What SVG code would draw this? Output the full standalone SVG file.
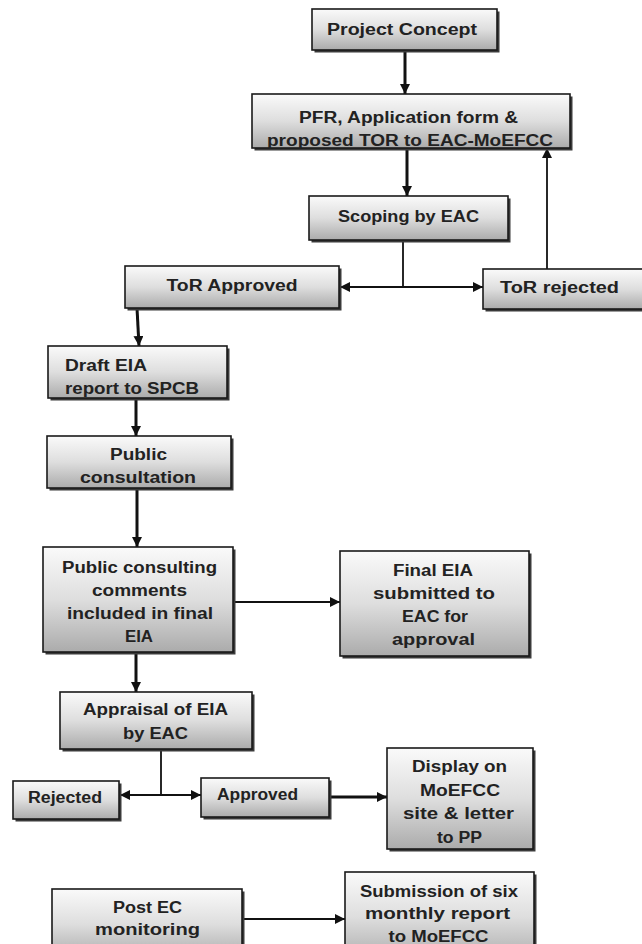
<svg xmlns="http://www.w3.org/2000/svg" width="642" height="944" viewBox="0 0 642 944">
<defs>
<linearGradient id="g" x1="0" y1="0" x2="0" y2="1">
<stop offset="0" stop-color="#fafafa"/>
<stop offset="0.5" stop-color="#dedede"/>
<stop offset="1" stop-color="#ababab"/>
</linearGradient>
<marker id="ah" markerUnits="userSpaceOnUse" markerWidth="11" markerHeight="10" refX="10" refY="5" orient="auto">
<path d="M0,0 L10,5 L0,10 z" fill="#111"/>
</marker>
<style>
.bx{fill:url(#g);stroke:#1a1a1a;stroke-width:1.6}
.sh{fill:#3a3a3a}
.t{font-family:"Liberation Sans",Arial,sans-serif;font-weight:bold;font-size:16px;fill:#222;text-anchor:middle}
.tl{text-anchor:start}
.thick{stroke:#111;stroke-width:3;fill:none}
.thin{stroke:#111;stroke-width:1.8;fill:none}
</style>
</defs>
<rect width="642" height="944" fill="#fff"/>

<g id="connectors">
<line class="thick" x1="405" y1="50" x2="405" y2="94" marker-end="url(#ah)"/>
<line class="thick" x1="407" y1="148" x2="407" y2="196" marker-end="url(#ah)"/>
<line class="thin" x1="403" y1="240" x2="403" y2="287" stroke-width="2.4"/>
<line class="thin" x1="403" y1="287" x2="340" y2="287" marker-end="url(#ah)"/>
<line class="thin" x1="403" y1="287" x2="483" y2="287" marker-end="url(#ah)"/>
<line class="thin" x1="547" y1="269" x2="547" y2="148" marker-end="url(#ah)"/>
<line class="thick" x1="137" y1="308" x2="139" y2="346" marker-end="url(#ah)"/>
<line class="thick" x1="136" y1="398" x2="136" y2="436" marker-end="url(#ah)"/>
<line class="thick" x1="137" y1="488" x2="137" y2="547" marker-end="url(#ah)"/>
<line class="thin" x1="233" y1="602" x2="340" y2="602" marker-end="url(#ah)"/>
<line class="thick" x1="136" y1="652" x2="136" y2="692" marker-end="url(#ah)"/>
<line class="thin" x1="161" y1="749" x2="161" y2="795" stroke-width="2.4"/>
<line class="thin" x1="161" y1="795" x2="120" y2="795" marker-end="url(#ah)"/>
<line class="thin" x1="161" y1="795" x2="201" y2="795" marker-end="url(#ah)"/>
<line class="thick" x1="329" y1="797" x2="387" y2="797" marker-end="url(#ah)"/>
<line class="thin" x1="242" y1="919" x2="345" y2="919" marker-end="url(#ah)"/>
</g>

<g id="project">
<rect class="sh" x="314.5" y="11.5" width="185" height="41"/>
<rect class="bx" x="312" y="9" width="185" height="41"/>
<text class="t" x="402" y="35" textLength="150" lengthAdjust="spacingAndGlyphs">Project Concept</text>
</g>

<g id="pfr">
<rect class="sh" x="254.5" y="96.5" width="318" height="54"/>
<rect class="bx" x="252" y="94" width="318" height="54"/>
<text class="t" x="408.5" y="123" textLength="219" lengthAdjust="spacingAndGlyphs">PFR, Application form &amp;</text>
<text class="t" x="410" y="146" textLength="286" lengthAdjust="spacingAndGlyphs">proposed TOR to EAC-MoEFCC</text>
</g>

<g id="scoping">
<rect class="sh" x="311.5" y="198.5" width="199" height="44"/>
<rect class="bx" x="309" y="196" width="199" height="44"/>
<text class="t" x="408.5" y="222" textLength="141" lengthAdjust="spacingAndGlyphs">Scoping by EAC</text>
</g>

<g id="tor-approved">
<rect class="sh" x="127.5" y="268.5" width="214" height="42"/>
<rect class="bx" x="125" y="266" width="214" height="42"/>
<text class="t" x="232" y="291" textLength="131" lengthAdjust="spacingAndGlyphs">ToR Approved</text>
</g>

<g id="tor-rejected">
<rect class="sh" x="485.5" y="271.5" width="170" height="40"/>
<rect class="bx" x="483" y="269" width="170" height="40"/>
<text class="t" x="559.5" y="293" textLength="119" lengthAdjust="spacingAndGlyphs">ToR rejected</text>
</g>

<g id="draft-eia">
<rect class="sh" x="50.5" y="348.5" width="179" height="52"/>
<rect class="bx" x="48" y="346" width="179" height="52"/>
<text class="t tl" x="65" y="371" textLength="82" lengthAdjust="spacingAndGlyphs">Draft EIA</text>
<text class="t tl" x="65" y="394" textLength="134" lengthAdjust="spacingAndGlyphs">report to SPCB</text>
</g>

<g id="public-consultation">
<rect class="sh" x="49.5" y="438.5" width="184" height="52"/>
<rect class="bx" x="47" y="436" width="184" height="52"/>
<text class="t" x="138.5" y="460" textLength="57" lengthAdjust="spacingAndGlyphs">Public</text>
<text class="t" x="138" y="483" textLength="116" lengthAdjust="spacingAndGlyphs">consultation</text>
</g>

<g id="public-comments">
<rect class="sh" x="45.5" y="549.5" width="190" height="105"/>
<rect class="bx" x="43" y="547" width="190" height="105"/>
<text class="t" x="139.5" y="573" textLength="155" lengthAdjust="spacingAndGlyphs">Public consulting</text>
<text class="t" x="139.5" y="596" textLength="95" lengthAdjust="spacingAndGlyphs">comments</text>
<text class="t" x="140" y="619" textLength="146" lengthAdjust="spacingAndGlyphs">included in final</text>
<text class="t" x="139" y="642" textLength="28" lengthAdjust="spacingAndGlyphs">EIA</text>
</g>

<g id="final-eia">
<rect class="sh" x="342.5" y="553.5" width="189" height="105"/>
<rect class="bx" x="340" y="551" width="189" height="105"/>
<text class="t" x="433" y="576" textLength="80" lengthAdjust="spacingAndGlyphs">Final EIA</text>
<text class="t" x="434" y="599" textLength="122" lengthAdjust="spacingAndGlyphs">submitted to</text>
<text class="t" x="435" y="622" textLength="66" lengthAdjust="spacingAndGlyphs">EAC for</text>
<text class="t" x="433.5" y="645" textLength="83" lengthAdjust="spacingAndGlyphs">approval</text>
</g>

<g id="appraisal">
<rect class="sh" x="62.5" y="694.5" width="192" height="57"/>
<rect class="bx" x="60" y="692" width="192" height="57"/>
<text class="t" x="155.5" y="715" textLength="145" lengthAdjust="spacingAndGlyphs">Appraisal of EIA</text>
<text class="t" x="155.5" y="739" textLength="65" lengthAdjust="spacingAndGlyphs">by EAC</text>
</g>

<g id="rejected">
<rect class="sh" x="15.5" y="783.5" width="106" height="38"/>
<rect class="bx" x="13" y="781" width="106" height="38"/>
<text class="t" x="65" y="803" textLength="74" lengthAdjust="spacingAndGlyphs">Rejected</text>
</g>

<g id="approved">
<rect class="sh" x="203.5" y="780.5" width="128" height="39"/>
<rect class="bx" x="201" y="778" width="128" height="39"/>
<text class="t" x="257.5" y="800" textLength="81" lengthAdjust="spacingAndGlyphs">Approved</text>
</g>

<g id="display">
<rect class="sh" x="389.5" y="750.5" width="146" height="101"/>
<rect class="bx" x="387" y="748" width="146" height="101"/>
<text class="t" x="459.5" y="772" textLength="95" lengthAdjust="spacingAndGlyphs">Display on</text>
<text class="t" x="460" y="796" textLength="80" lengthAdjust="spacingAndGlyphs">MoEFCC</text>
<text class="t" x="458.5" y="819" textLength="111" lengthAdjust="spacingAndGlyphs">site &amp; letter</text>
<text class="t" x="459.5" y="843" textLength="45" lengthAdjust="spacingAndGlyphs">to PP</text>
</g>

<g id="post-ec">
<rect class="sh" x="54.5" y="891.5" width="190" height="70"/>
<rect class="bx" x="52" y="889" width="190" height="70"/>
<text class="t" x="147.5" y="913" textLength="69" lengthAdjust="spacingAndGlyphs">Post EC</text>
<text class="t" x="147.5" y="935" textLength="105" lengthAdjust="spacingAndGlyphs">monitoring</text>
</g>

<g id="submission">
<rect class="sh" x="347.5" y="874.5" width="189" height="90"/>
<rect class="bx" x="345" y="872" width="189" height="90"/>
<text class="t" x="439" y="897" textLength="158" lengthAdjust="spacingAndGlyphs">Submission of six</text>
<text class="t" x="437.5" y="919" textLength="145" lengthAdjust="spacingAndGlyphs">monthly report</text>
<text class="t" x="438.5" y="942" textLength="100" lengthAdjust="spacingAndGlyphs">to MoEFCC</text>
</g>
</svg>
